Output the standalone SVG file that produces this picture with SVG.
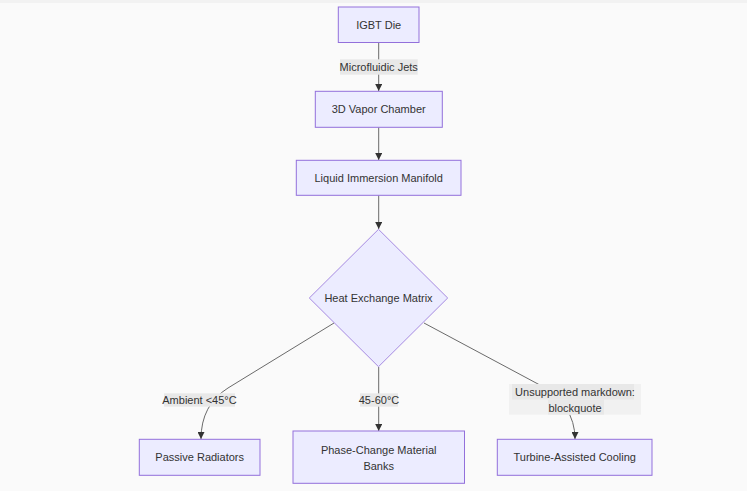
<svg xmlns="http://www.w3.org/2000/svg" width="747" height="491" viewBox="0 0 747 491">
<defs>
<style>
.node rect,.node polygon{fill:#ececff;stroke:#9370db;stroke-width:1}
.node polygon{stroke-width:0.8}
text{font-family:"Liberation Sans",Arial,sans-serif;font-size:11px;fill:#333;text-anchor:middle;dominant-baseline:central}
.edge{fill:none;stroke:#6a6a6a;stroke-width:1}
.lbl{fill:#e8e8e8}
.lblo{fill:#f1f1f1}
</style>
<marker id="arr" viewBox="0 0 10 10" refX="10" refY="5" markerWidth="7" markerHeight="7" markerUnits="userSpaceOnUse" orient="auto">
<path d="M0,0 L10,5 L0,10 z" fill="#333"/>
</marker>
</defs>
<rect x="0" y="0" width="747" height="491" fill="#fafafa"/>
<rect x="0" y="0" width="747" height="3" fill="#f2f2f2"/>
<g id="connectors">
<path class="edge" d="M378.7,42.5 L378.7,91" marker-end="url(#arr)"/>
<path class="edge" d="M378.7,127.3 L378.7,160" marker-end="url(#arr)"/>
<path class="edge" d="M378.7,195.3 L378.7,229" marker-end="url(#arr)"/>
<path class="edge" d="M334,323 L228,388 Q201,405 201,439" marker-end="url(#arr)"/>
<path class="edge" d="M378.7,367 L378.7,431" marker-end="url(#arr)"/>
<path class="edge" d="M424,323 L538,384 Q575,404 575,439" marker-end="url(#arr)"/>
</g>
<g id="edge-labels">
<g id="label-jets"><rect class="lbl" x="340" y="59.3" width="77.7" height="15.4"/><text x="378.7" y="67">Microfluidic Jets</text></g>
<g id="label-ambient"><rect class="lbl" x="164" y="393.3" width="71" height="13.4"/><text x="199.5" y="400">Ambient &lt;45°C</text></g>
<g id="label-4560"><rect class="lbl" x="360" y="393.3" width="38" height="13.4"/><text x="379" y="400">45-60°C</text></g>
<g id="label-unsupported"><rect class="lblo" x="509" y="384" width="132" height="30.7"/><rect class="lbl" x="512" y="384" width="122" height="15.5"/><rect class="lbl" x="548" y="399.5" width="56" height="15.2"/><text x="575" y="392">Unsupported markdown:</text><text x="575" y="407.7">blockquote</text></g>
</g>
<g id="igbt" class="node"><rect x="338.3" y="7" width="80.7" height="35.5"/><text x="378.7" y="25">IGBT Die</text></g>
<g id="vapor" class="node"><rect x="315.3" y="91.3" width="127" height="36"/><text x="378.7" y="109.3">3D Vapor Chamber</text></g>
<g id="manifold" class="node"><rect x="296.3" y="160.3" width="164.7" height="35"/><text x="378.7" y="178">Liquid Immersion Manifold</text></g>
<g id="matrix" class="node"><polygon points="378.5,229.3 447.7,298 378.5,366.7 309.3,298"/><text x="378.5" y="298">Heat Exchange Matrix</text></g>
<g id="passive" class="node"><rect x="139.3" y="439.3" width="120.7" height="36"/><text x="199.7" y="457.3">Passive Radiators</text></g>
<g id="pcm" class="node"><rect x="293" y="431" width="171.5" height="52.3"/><text x="378.7" y="450">Phase-Change Material</text><text x="378.7" y="465.5">Banks</text></g>
<g id="turbine" class="node"><rect x="497.3" y="439.3" width="154.7" height="36"/><text x="574.7" y="457.3">Turbine-Assisted Cooling</text></g>
</svg>
